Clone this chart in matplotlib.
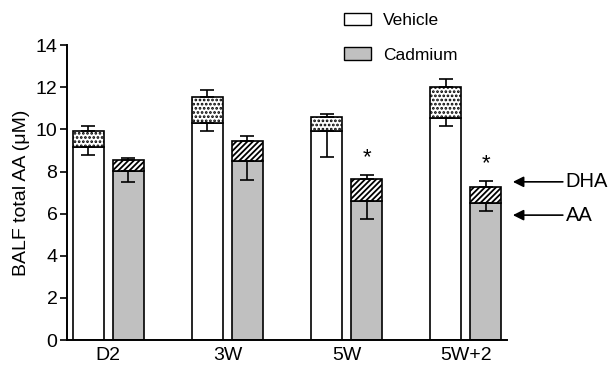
import numpy as np
import matplotlib
matplotlib.use("Agg")
import matplotlib.pyplot as plt
from matplotlib.patches import Patch

plt.rcParams['font.family'] = ['Liberation Sans', 'DejaVu Sans']
plt.rcParams['hatch.linewidth'] = 1.3

# データ
groups = ["D2", "3W", "5W", "5W+2"]
veh_aa = [9.15, 10.3, 9.93, 10.55]
veh_total = [9.94, 11.55, 10.6, 12.02]
veh_total_err = [0.23, 0.32, 0.14, 0.35]
veh_aa_err = [0.35, 0.38, 1.26, 0.38]
cad_aa = [8.02, 8.5, 6.6, 6.52]
cad_total = [8.53, 9.43, 7.66, 7.28]
cad_total_err = [0.09, 0.27, 0.17, 0.25]
cad_aa_err = [0.52, 0.9, 0.87, 0.41]
signif = [False, False, True, True]

gray = "#c0c0c0"
x = np.arange(len(groups))
w = 0.26
off = 0.168

fig = plt.figure(figsize=(6.1, 3.7), dpi=100)
ax = fig.add_axes([0.110, 0.081, 0.721, 0.797])

def draw_group(pos, aa, total, t_err, a_err, face, hatch):
    aa = np.array(aa)
    total = np.array(total)
    ax.bar(pos, aa, w, color=face, edgecolor="black", linewidth=1.2, zorder=2)
    ax.bar(pos, total - aa, w, bottom=aa, color="white", edgecolor="black",
           hatch=hatch, linewidth=1.2, zorder=2)
    ax.errorbar(pos, total, yerr=[np.zeros(len(pos)), t_err], fmt="none",
                ecolor="black", elinewidth=1.2, capsize=5, capthick=1.2, zorder=3)
    ax.errorbar(pos, aa, yerr=[a_err, np.zeros(len(pos))], fmt="none",
                ecolor="black", elinewidth=1.2, capsize=5, capthick=1.2, zorder=3)

draw_group(x - off, veh_aa, veh_total, veh_total_err, veh_aa_err, "white", "....")
draw_group(x + off, cad_aa, cad_total, cad_total_err, cad_aa_err, gray, "//////")

# 有意差
for i, s in enumerate(signif):
    if s:
        ax.text(x[i] + off, cad_total[i] + cad_total_err[i] + 0.35, "*",
                ha="center", va="bottom", fontsize=16)

ax.set_xlim(-0.344, 3.344)
ax.set_ylim(0, 14)
ax.set_yticks(np.arange(0, 15, 2))
ax.set_xticks(x)
ax.set_xticklabels(groups)
ax.tick_params(axis="x", length=0, labelsize=14, pad=5)
ax.tick_params(axis="y", length=5, width=1.2, labelsize=14, pad=2)
ax.set_ylabel("BALF total AA (\u03bcM)", fontsize=14, labelpad=4)
for side in ["top", "right"]:
    ax.spines[side].set_visible(False)
for side in ["left", "bottom"]:
    ax.spines[side].set_linewidth(1.4)

# 矢印ラベル
for label, yv in [("DHA", 7.51), ("AA", 5.93)]:
    ax.annotate("", xy=(3.394, yv), xytext=(3.813, yv),
                arrowprops=dict(arrowstyle="-|>", color="black", lw=1.2,
                                mutation_scale=16, shrinkA=0, shrinkB=0),
                annotation_clip=False)
    ax.text(3.835, yv, label, ha="left", va="center", fontsize=14.5, clip_on=False)

handles = [Patch(facecolor="white", edgecolor="black", linewidth=1.0),
           Patch(facecolor=gray, edgecolor="black", linewidth=1.0)]
fig.legend(handles, ["Vehicle", "Cadmium"], loc="upper left",
           bbox_to_anchor=(0.538, 1.008), frameon=False, fontsize=12.5,
           handlelength=1.55, handleheight=0.75, handletextpad=0.7,
           labelspacing=1.1)

fig.savefig("out.png", dpi=100)
